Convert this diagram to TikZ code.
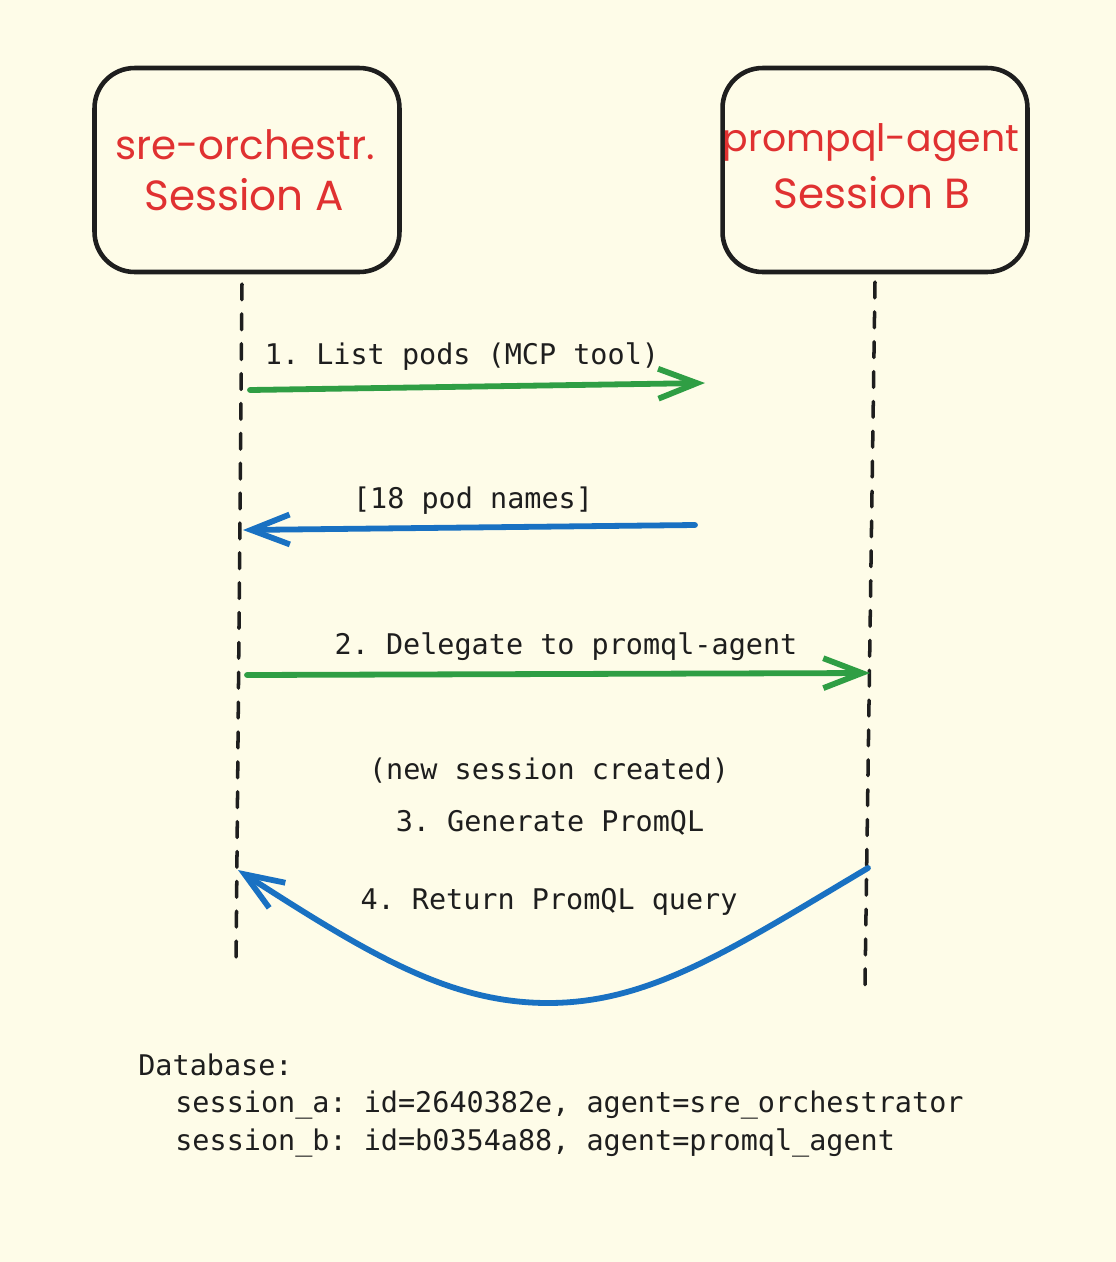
\documentclass[tikz,border=0pt]{standalone}
\usepackage{fontspec}
\setmainfont{Poppins}
\setmonofont{DejaVu Sans Mono}
\usetikzlibrary{arrows.meta}
\definecolor{bgc}{HTML}{FEFCE8}
\definecolor{redc}{HTML}{E03131}
\definecolor{greenc}{HTML}{2F9E44}
\definecolor{bluec}{HTML}{1971C2}
\definecolor{inkc}{HTML}{1E1E1E}
\tikzset{
  actor/.style={draw=inkc, line width=2.6pt, rounded corners=0.8cm, minimum width=6.1cm, minimum height=4.08cm, fill=bgc},
  actortext/.style={text=redc, font=\fontsize{23}{28}\selectfont},
  actortextsmall/.style={text=redc, font=\fontsize{21.5}{26}\selectfont},
  actortextbig/.style={text=redc, font=\fontsize{24}{29}\selectfont},
  lifeline/.style={draw=inkc, line width=2pt, dash pattern=on 9pt off 8pt, line cap=round},
  msg/.style={line width=3.3pt, line cap=round, -{Straight Barb[length=22pt,width=17pt,line width=3.3pt]}},
  greenmsg/.style={msg, draw=greenc},
  bluemsg/.style={msg, draw=bluec},
  lbl/.style={text=inkc, font=\ttfamily\fontsize{16.2}{19}\selectfont, inner sep=0pt},
}
\begin{document}
\begin{tikzpicture}[x=0.02cm,y=-0.02cm]
\fill[bgc] (0,0) rectangle (1116,1262);
\useasboundingbox (0,0) rectangle (1116,1262);

\node[actor] (boxA) at (247,170) {};
\node[actor] (boxB) at (875,170) {};
\node[actortext] (tA1) at (245,145) {sre-orchestr.};
\node[actortextbig] (tA2) at (244,195) {Session A};
\node[actortextsmall] (tB1) at (871,143) {prompql-agent};
\node[actortextbig] (tB2) at (872,193) {Session B};

\coordinate (la1) at (242,284);
\coordinate (la2) at (236,970);
\coordinate (lb1) at (875,282);
\coordinate (lb2) at (865,985);
\draw[lifeline] (la1) -- (la2);
\draw[lifeline] (lb1) -- (lb2);

% message 1
\coordinate (m1s) at (250,390);
\coordinate (m1e) at (705,383);
\draw[greenmsg] (m1s) -- (m1e);
\node[lbl] (l1) at (462,357) {1. List pods (MCP tool)};

% message 2
\coordinate (m2s) at (695,525);
\coordinate (m2e) at (243,530);
\draw[bluemsg] (m2s) -- (m2e);
\node[lbl] (l2) at (473,501) {[18 pod names]};

% message 3
\coordinate (m3s) at (247,675);
\coordinate (m3e) at (870,673);
\draw[greenmsg] (m3s) -- (m3e);
\node[lbl] (l3) at (566,647) {2. Delegate to promql-agent};

\node[lbl] (n1) at (549,771) {(new session created)};
\node[lbl] (n2) at (550,823) {3. Generate PromQL};

% message 4
\coordinate (m4s) at (868,868);
\coordinate (m4m) at (548,1003);
\coordinate (m4e) at (238,870);
\draw[bluemsg] (m4s) .. controls (730,950) and (650,1003) .. (m4m) .. controls (450,1003) and (370,955) .. (m4e);
\node[lbl] (l4) at (549,902) {4. Return PromQL query};

% database
\node[lbl, anchor=west] (db0) at (138,1065) {Database:};
\node[lbl, anchor=west] (db1) at (175,1105) {session\_a: id=2640382e, agent=sre\_orchestrator};
\node[lbl, anchor=west] (db2) at (175,1143) {session\_b: id=b0354a88, agent=promql\_agent};
\end{tikzpicture}
\end{document}
